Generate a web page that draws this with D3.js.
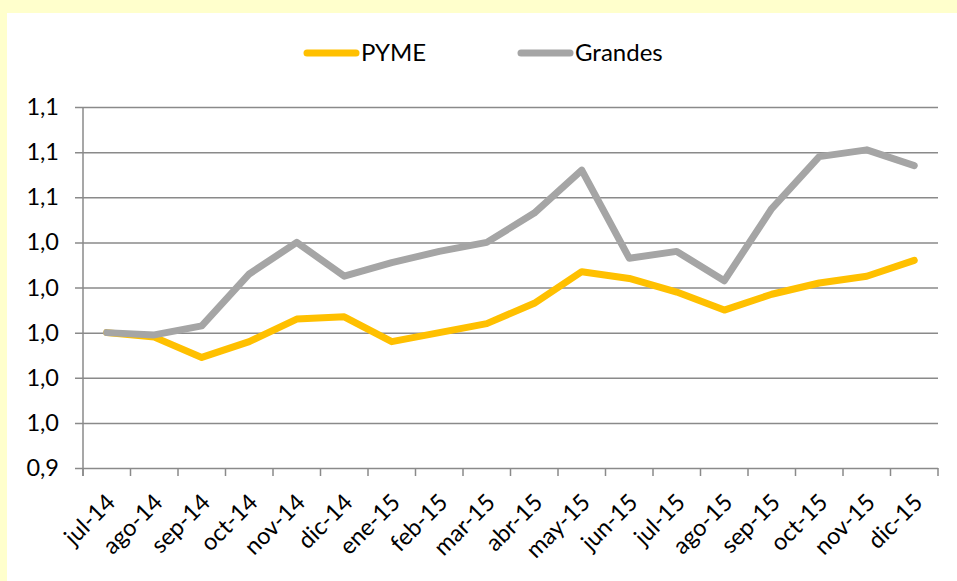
<!DOCTYPE html>
<html>
<head>
<meta charset="utf-8">
<script src="https://cdn.jsdelivr.net/npm/d3@7"></script>
<style>
  html, body { margin: 0; padding: 0; background: #FFFFCC; }
  svg { display: block; }
  .axis text { font-family: Lato, "Open Sans", sans-serif; font-size: 23.5px; fill: #000; }
  .legend text { font-family: Lato, "Open Sans", sans-serif; font-size: 24px; fill: #000; }
</style>
</head>
<body>
<div id="vis"></div>
<script>
const months = ['jul-14', 'ago-14', 'sep-14', 'oct-14', 'nov-14', 'dic-14', 'ene-15', 'feb-15', 'mar-15',
    'abr-15', 'may-15', 'jun-15', 'jul-15', 'ago-15', 'sep-15', 'oct-15', 'nov-15', 'dic-15']
const pyme = [1.000, 0.998, 0.989, 0.996, 1.006, 1.007, 0.996, 1.000, 1.004,
    1.013, 1.027, 1.024, 1.018, 1.010, 1.017, 1.022, 1.025, 1.032]
const grandes = [1.000, 0.999, 1.003, 1.026, 1.040, 1.025, 1.031, 1.036, 1.040,
    1.053, 1.072, 1.033, 1.036, 1.023, 1.055, 1.078, 1.081, 1.074]
const yTicks = [0.94, 0.96, 0.98, 1.00, 1.02, 1.04, 1.06, 1.08, 1.10]

const series = [
    { name: 'PYME', values: pyme, color: '#FFC000' },
    { name: 'Grandes', values: grandes, color: '#A5A5A5' }
]

const W = 957, H = 581
const margin = { top: 107, right: 19, bottom: 113, left: 83 }
const width = W - margin.left - margin.right
const height = H - margin.top - margin.bottom
const gridColor = '#8A8A8A'

const root = d3.select('#vis')
    .append('svg')
    .attr('width', W)
    .attr('height', H)

// white panel on the yellow page
root.append('rect')
    .attr('x', 7).attr('y', 13)
    .attr('width', W - 7).attr('height', H - 13)
    .attr('fill', '#fff')

const svg = root.append('g')
    .attr('transform', `translate(${margin.left},${margin.top})`)

const xScale = d3.scaleBand()
    .domain(months)
    .range([0, width])

const yScale = d3.scaleLinear()
    .domain([0.94, 1.10])
    .range([height, 0])

const fmt = d => d3.format('.1f')(d).replace('.', ',')

// horizontal grid + y labels
const yAxis = svg.append('g')
    .attr('class', 'axis')
    .call(d3.axisLeft(yScale).tickValues(yTicks).tickSize(-width).tickPadding(0).tickFormat(fmt))
yAxis.select('.domain').remove()
yAxis.selectAll('line')
    .attr('x1', -8)
    .attr('stroke', gridColor)
    .attr('stroke-width', 1.5)
yAxis.selectAll('text')
    .attr('x', -24)

// vertical axis line
svg.append('line')
    .attr('x1', 0).attr('x2', 0)
    .attr('y1', 0).attr('y2', height + 8)
    .attr('stroke', gridColor)
    .attr('stroke-width', 1.5)

// x axis ticks at category boundaries
const xAxis = svg.append('g')
    .attr('class', 'axis')
    .attr('transform', `translate(0,${height})`)
xAxis.selectAll('.xtick')
    .data(d3.range(months.length + 1))
    .join('line')
    .attr('x1', i => i * xScale.step())
    .attr('x2', i => i * xScale.step())
    .attr('y1', 0).attr('y2', 8)
    .attr('stroke', gridColor)
    .attr('stroke-width', 1.5)

xAxis.selectAll('.xlab')
    .data(months)
    .join('text')
    .attr('transform', d => `translate(${xScale(d) + xScale.bandwidth() / 2 + 4},${30}) rotate(-45)`)
    .attr('text-anchor', 'end')
    .attr('dy', '0.35em')
    .text(d => d)

// lines
const line = d3.line()
    .x((d, i) => xScale(months[i]) + xScale.bandwidth() / 2)
    .y(d => yScale(d))

svg.selectAll('.series')
    .data(series)
    .join('path')
    .attr('class', 'series')
    .attr('d', d => line(d.values))
    .attr('fill', 'none')
    .attr('stroke', d => d.color)
    .attr('stroke-width', 7)
    .attr('stroke-linecap', 'round')
    .attr('stroke-linejoin', 'round')

// legend
const legend = root.append('g').attr('class', 'legend')
const legendX = [307, 521]
series.forEach((s, i) => {
    legend.append('line')
        .attr('x1', legendX[i]).attr('x2', legendX[i] + 49)
        .attr('y1', 53).attr('y2', 53)
        .attr('stroke', s.color)
        .attr('stroke-width', 7)
        .attr('stroke-linecap', 'round')
    legend.append('text')
        .attr('x', legendX[i] + 54)
        .attr('y', 53)
        .attr('dy', '0.35em')
        .text(s.name)
})
</script>
</body>
</html>
